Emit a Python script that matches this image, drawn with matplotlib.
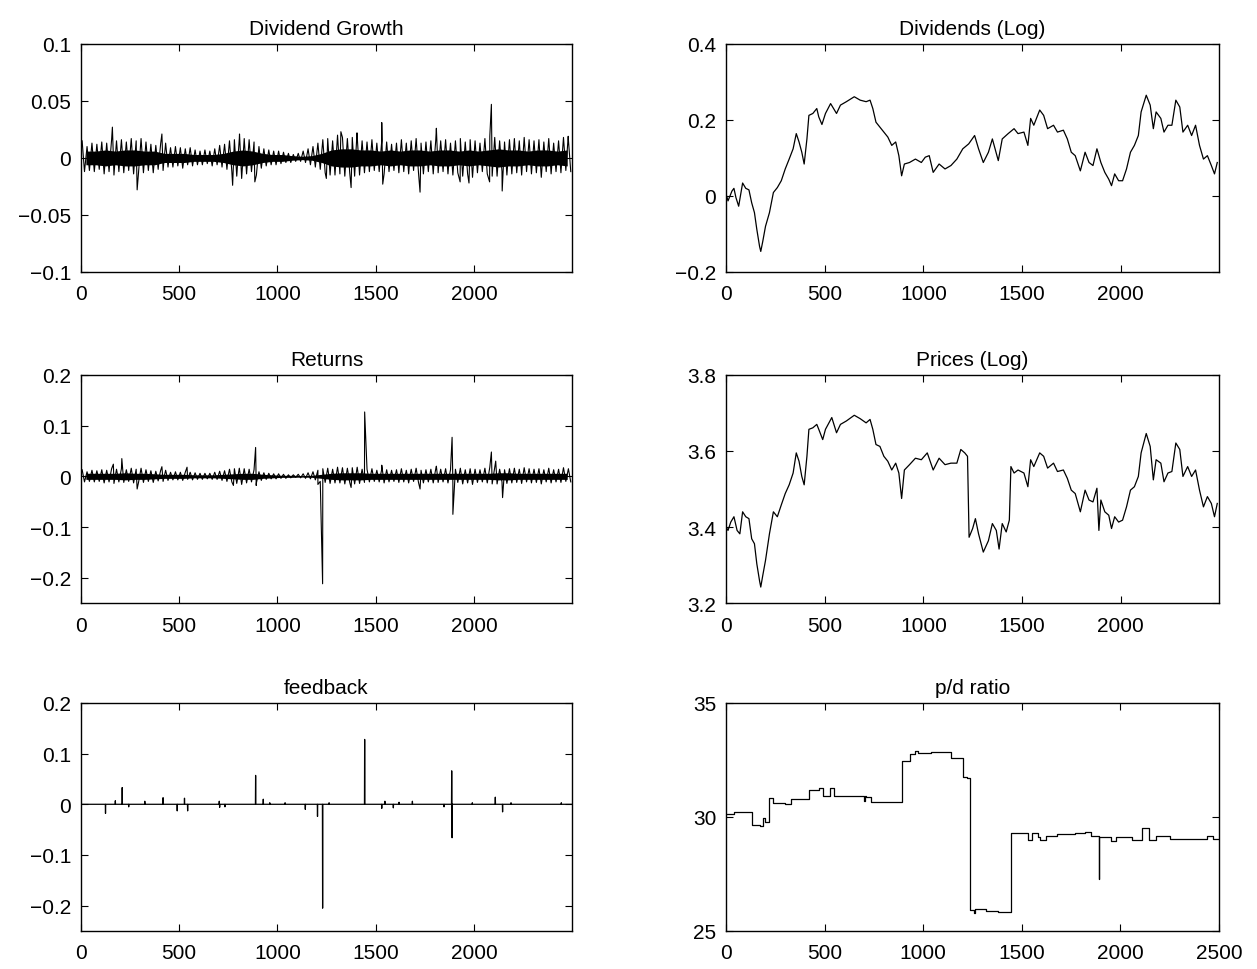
'''
Simulated market series: dividend growth, returns, feedback, log prices, p/d ratio
'''
import numpy as np
import matplotlib.pyplot as plt

plt.rcParams['font.family'] = ['Liberation Sans', 'DejaVu Sans']

N_OBS = 2499
BIN = 25
CORE_BIN = 50

# noise bands (upper / lower edge per 25-step bin)
growth_hi = [0.015, 0.010, 0.013, 0.012, 0.014, 0.013, 0.016, 0.015, 0.016, 0.014,
             0.017, 0.015, 0.017, 0.014, 0.012, 0.011, 0.013, 0.013, 0.009, 0.010,
             0.009, 0.008, 0.009, 0.007, 0.006, 0.007, 0.006, 0.008, 0.011, 0.012,
             0.015, 0.016, 0.017, 0.017, 0.016, 0.014, 0.010, 0.008, 0.007, 0.006,
             0.006, 0.005, 0.004, 0.003, 0.004, 0.006, 0.008, 0.010, 0.013, 0.016,
             0.017, 0.015, 0.020, 0.018, 0.017, 0.018, 0.019, 0.015, 0.014, 0.016,
             0.013, 0.015, 0.014, 0.012, 0.013, 0.016, 0.013, 0.015, 0.017, 0.013,
             0.014, 0.015, 0.016, 0.015, 0.016, 0.013, 0.015, 0.017, 0.014, 0.016,
             0.015, 0.013, 0.017, 0.019, 0.018, 0.015, 0.014, 0.016, 0.017, 0.015,
             0.018, 0.016, 0.015, 0.016, 0.014, 0.017, 0.013, 0.015, 0.018, 0.016]
growth_lo = [-0.012, -0.011, -0.012, -0.010, -0.014, -0.012, -0.015, -0.012, -0.013, -0.011,
             -0.014, -0.013, -0.013, -0.011, -0.013, -0.010, -0.011, -0.008, -0.008, -0.007,
             -0.009, -0.006, -0.007, -0.006, -0.006, -0.005, -0.007, -0.006, -0.008, -0.010,
             -0.012, -0.016, -0.018, -0.014, -0.012, -0.015, -0.009, -0.007, -0.006, -0.006,
             -0.005, -0.004, -0.004, -0.003, -0.003, -0.004, -0.006, -0.008, -0.010, -0.013,
             -0.015, -0.015, -0.014, -0.016, -0.013, -0.016, -0.015, -0.013, -0.012, -0.011,
             -0.012, -0.014, -0.012, -0.011, -0.013, -0.012, -0.014, -0.011, -0.013, -0.014,
             -0.012, -0.014, -0.013, -0.012, -0.014, -0.015, -0.013, -0.016, -0.014, -0.017,
             -0.013, -0.012, -0.014, -0.016, -0.016, -0.012, -0.015, -0.014, -0.013, -0.015,
             -0.012, -0.014, -0.013, -0.017, -0.012, -0.014, -0.012, -0.013, -0.011, -0.012]
# half-width of the solid dark core of the band, per 50-step bin
growth_core = [0.006, 0.006, 0.007, 0.006, 0.007, 0.007, 0.006, 0.006, 0.004, 0.004,
               0.004, 0.003, 0.003, 0.003, 0.004, 0.006, 0.007, 0.006, 0.004, 0.003,
               0.003, 0.002, 0.0015, 0.002, 0.004, 0.007, 0.008, 0.008, 0.007, 0.007,
               0.006, 0.007, 0.006, 0.007, 0.007, 0.006, 0.007, 0.007, 0.006, 0.007,
               0.006, 0.007, 0.008, 0.007, 0.007, 0.006, 0.007, 0.007, 0.006, 0.007]
growth_spike_t = [160, 286, 412, 772, 807, 885, 1249, 1323, 1375, 1405,
                  1531, 1536, 1726, 1809, 1930, 1975, 2080, 2089, 2144, 2480]
growth_spike_v = [0.027, -0.028, 0.021, -0.024, 0.021, -0.021, -0.018, 0.023, -0.026, 0.022,
                  0.031, -0.023, -0.030, 0.026, -0.021, -0.022, -0.021, 0.047, -0.029, 0.019]

ret_hi = [0.013, 0.009, 0.012, 0.011, 0.013, 0.012, 0.015, 0.014, 0.015, 0.013,
          0.016, 0.014, 0.016, 0.013, 0.011, 0.010, 0.012, 0.012, 0.008, 0.009,
          0.008, 0.008, 0.008, 0.007, 0.006, 0.006, 0.006, 0.008, 0.010, 0.011,
          0.014, 0.015, 0.016, 0.015, 0.014, 0.013, 0.009, 0.007, 0.006, 0.005,
          0.005, 0.004, 0.003, 0.003, 0.004, 0.005, 0.007, 0.009, 0.012, 0.015,
          0.016, 0.014, 0.018, 0.017, 0.016, 0.017, 0.018, 0.014, 0.014, 0.015,
          0.012, 0.014, 0.013, 0.012, 0.013, 0.015, 0.012, 0.014, 0.016, 0.012,
          0.013, 0.014, 0.015, 0.014, 0.015, 0.013, 0.014, 0.016, 0.013, 0.015,
          0.014, 0.013, 0.016, 0.018, 0.017, 0.014, 0.013, 0.015, 0.016, 0.014,
          0.017, 0.015, 0.014, 0.015, 0.013, 0.016, 0.013, 0.014, 0.017, 0.015]
ret_lo = [-0.011, -0.010, -0.011, -0.010, -0.013, -0.011, -0.014, -0.011, -0.012, -0.010,
          -0.013, -0.012, -0.012, -0.010, -0.012, -0.009, -0.010, -0.008, -0.007, -0.007,
          -0.008, -0.006, -0.007, -0.006, -0.006, -0.005, -0.006, -0.006, -0.008, -0.010,
          -0.011, -0.014, -0.016, -0.013, -0.011, -0.013, -0.008, -0.006, -0.005, -0.005,
          -0.004, -0.004, -0.003, -0.002, -0.003, -0.004, -0.005, -0.007, -0.010, -0.012,
          -0.014, -0.013, -0.013, -0.015, -0.012, -0.015, -0.014, -0.012, -0.011, -0.010,
          -0.011, -0.013, -0.011, -0.010, -0.012, -0.011, -0.013, -0.010, -0.012, -0.013,
          -0.011, -0.013, -0.012, -0.011, -0.013, -0.014, -0.012, -0.015, -0.013, -0.016,
          -0.012, -0.011, -0.013, -0.015, -0.015, -0.011, -0.014, -0.013, -0.012, -0.014,
          -0.011, -0.013, -0.012, -0.015, -0.011, -0.013, -0.011, -0.012, -0.010, -0.011]
ret_core = [0.006, 0.006, 0.006, 0.006, 0.007, 0.006, 0.006, 0.005, 0.004, 0.004,
            0.004, 0.003, 0.003, 0.003, 0.004, 0.005, 0.006, 0.006, 0.004, 0.003,
            0.002, 0.002, 0.0015, 0.002, 0.004, 0.006, 0.007, 0.007, 0.007, 0.006,
            0.006, 0.006, 0.006, 0.006, 0.006, 0.006, 0.006, 0.006, 0.006, 0.006,
            0.006, 0.006, 0.007, 0.007, 0.006, 0.006, 0.006, 0.006, 0.006, 0.006]
ret_spike_t = [165, 208, 286, 412, 540, 776, 889, 892, 1206, 1230,
               1375, 1444, 1531, 1726, 1809, 1889, 1893, 2089, 2111, 2146]
ret_spike_v = [0.024, 0.035, -0.025, 0.019, 0.018, -0.018, 0.057, -0.018, -0.016, -0.212,
               -0.022, 0.127, 0.022, -0.025, 0.020, 0.077, -0.075, 0.048, 0.030, -0.042]

# feedback is zero except for isolated jumps
fb_t = [125, 175, 210, 243, 325, 418, 490, 527, 543, 704, 706, 733, 889, 928, 961,
        1039, 1142, 1204, 1230, 1263, 1444, 1531, 1547, 1590, 1619, 1687, 1848, 1887,
        1889, 1992, 2109, 2146, 2189, 2445]
fb_v = [-0.018, 0.007, 0.033, -0.005, 0.006, 0.013, -0.013, 0.012, -0.013, 0.006, -0.006,
        -0.005, 0.057, 0.010, 0.003, 0.003, -0.010, -0.024, -0.205, 0.003, 0.128, -0.008,
        0.006, -0.007, 0.004, 0.006, -0.005, 0.066, -0.066, 0.003, 0.014, -0.015, 0.003,
        0.003]

# log dividends
div_t = [0, 10, 30, 40, 50, 64, 84, 100, 116, 130, 144, 156, 170, 176, 186, 200, 220, 240,
         260, 280, 300, 320, 340, 356, 370, 384, 396, 410, 420, 440, 460, 470, 486, 504,
         530, 560, 580, 610, 650, 680, 710, 730, 744, 760, 780, 800, 820, 840, 860, 876,
         890, 904, 930, 960, 990, 1010, 1030, 1050, 1080, 1110, 1140, 1170, 1200, 1230,
         1260, 1280, 1304, 1330, 1350, 1380, 1400, 1430, 1460, 1480, 1510, 1530, 1544,
         1560, 1590, 1610, 1630, 1660, 1680, 1710, 1730, 1750, 1770, 1796, 1820, 1840,
         1860, 1880, 1900, 1920, 1940, 1954, 1970, 1990, 2010, 2030, 2050, 2070, 2090,
         2104, 2130, 2150, 2166, 2180, 2204, 2220, 2240, 2260, 2280, 2300, 2316, 2340,
         2360, 2380, 2400, 2420, 2440, 2460, 2476, 2490]
div_v = [0.005, -0.013, 0.013, 0.020, -0.004, -0.027, 0.034, 0.020, 0.016, -0.018, -0.044,
         -0.088, -0.133, -0.146, -0.120, -0.080, -0.044, 0.009, 0.022, 0.040, 0.071, 0.097,
         0.124, 0.164, 0.142, 0.115, 0.084, 0.150, 0.212, 0.217, 0.230, 0.208, 0.188, 0.217,
         0.243, 0.217, 0.239, 0.248, 0.261, 0.252, 0.248, 0.252, 0.230, 0.194, 0.181, 0.168,
         0.155, 0.133, 0.142, 0.106, 0.053, 0.084, 0.088, 0.097, 0.088, 0.102, 0.106, 0.062,
         0.084, 0.071, 0.080, 0.097, 0.124, 0.137, 0.159, 0.124, 0.088, 0.115, 0.150, 0.093,
         0.150, 0.164, 0.177, 0.164, 0.168, 0.133, 0.204, 0.186, 0.226, 0.212, 0.177, 0.186,
         0.168, 0.173, 0.150, 0.115, 0.106, 0.066, 0.115, 0.088, 0.080, 0.124, 0.088, 0.062,
         0.044, 0.027, 0.058, 0.040, 0.040, 0.071, 0.115, 0.133, 0.159, 0.221, 0.265, 0.239,
         0.177, 0.221, 0.204, 0.168, 0.186, 0.186, 0.252, 0.234, 0.168, 0.186, 0.159, 0.186,
         0.133, 0.097, 0.106, 0.080, 0.058, 0.088]

# log prices
price_t = [0, 10, 24, 40, 56, 70, 84, 100, 116, 130, 144, 156, 170, 176, 186, 200, 220,
           240, 260, 280, 300, 320, 340, 356, 370, 384, 396, 410, 420, 440, 460, 470, 490,
           504, 536, 560, 580, 610, 650, 680, 710, 730, 744, 760, 780, 800, 820, 840, 860,
           876, 890, 904, 930, 960, 990, 1020, 1050, 1080, 1110, 1140, 1170, 1190, 1210,
           1224, 1232, 1250, 1264, 1280, 1304, 1330, 1350, 1370, 1384, 1400, 1420, 1436,
           1444, 1460, 1480, 1510, 1530, 1544, 1560, 1590, 1610, 1630, 1660, 1680, 1710,
           1730, 1750, 1770, 1796, 1820, 1840, 1860, 1880, 1890, 1900, 1920, 1940, 1954,
           1970, 1990, 2010, 2030, 2050, 2070, 2090, 2104, 2130, 2150, 2166, 2180, 2204,
           2220, 2240, 2260, 2280, 2300, 2316, 2340, 2360, 2380, 2400, 2420, 2440, 2460,
           2476, 2490]
price_v = [3.400, 3.391, 3.413, 3.427, 3.391, 3.382, 3.440, 3.427, 3.422, 3.369, 3.356,
           3.303, 3.258, 3.242, 3.272, 3.312, 3.382, 3.440, 3.427, 3.458, 3.488, 3.511,
           3.542, 3.595, 3.573, 3.533, 3.511, 3.586, 3.657, 3.661, 3.670, 3.657, 3.630,
           3.657, 3.688, 3.648, 3.670, 3.679, 3.694, 3.685, 3.674, 3.683, 3.657, 3.617,
           3.612, 3.586, 3.573, 3.550, 3.568, 3.542, 3.475, 3.550, 3.564, 3.581, 3.577,
           3.595, 3.550, 3.581, 3.564, 3.568, 3.568, 3.604, 3.595, 3.586, 3.373, 3.396,
           3.422, 3.382, 3.334, 3.364, 3.409, 3.391, 3.342, 3.409, 3.387, 3.418, 3.559,
           3.542, 3.550, 3.542, 3.506, 3.577, 3.559, 3.595, 3.586, 3.555, 3.568, 3.546,
           3.550, 3.528, 3.497, 3.488, 3.440, 3.497, 3.471, 3.466, 3.502, 3.391, 3.471,
           3.440, 3.431, 3.396, 3.427, 3.413, 3.418, 3.453, 3.497, 3.506, 3.533, 3.595,
           3.646, 3.612, 3.524, 3.577, 3.568, 3.519, 3.542, 3.546, 3.621, 3.604, 3.533,
           3.559, 3.533, 3.550, 3.497, 3.453, 3.480, 3.462, 3.427, 3.462]

# price/dividend ratio, piecewise constant
pd_t = [0, 40, 130, 170, 186, 196, 216, 240, 300, 330, 420, 470, 490, 526, 546, 700,
        704, 712, 734, 890, 932, 960, 972, 1040, 1140, 1204, 1220, 1236, 1256, 1262,
        1320, 1380, 1440, 1444, 1530, 1550, 1580, 1590, 1620, 1680, 1770, 1820, 1850,
        1889, 1891, 1950, 1980, 2060, 2110, 2144, 2180, 2250, 2280, 2440, 2470, 2500]
pd_v = [30.15, 30.2, 29.65, 29.6, 29.95, 29.8, 30.82, 30.6, 30.55, 30.78, 31.18, 31.27,
        30.92, 31.27, 30.9, 30.7, 30.9, 30.88, 30.66, 32.45, 32.78, 32.9, 32.8, 32.85,
        32.6, 31.75, 31.7, 25.9, 25.8, 25.95, 25.88, 25.83, 25.85, 29.3, 29.0, 29.3,
        29.1, 29.0, 29.15, 29.25, 29.3, 29.35, 29.15, 27.3, 29.1, 28.95, 29.1, 28.98,
        29.5, 29.0, 29.15, 29.05, 29.02, 29.15, 29.05, 29.05]


def noise_line(hi, lo, spike_t, spike_v):
    """
    Merge the band edges and the spikes into one time-ordered line
    """
    t = np.arange(len(hi)) * BIN
    xs = np.concatenate([t + 6, t + 18, spike_t])
    ys = np.concatenate([hi, lo, spike_v])
    order = np.argsort(xs, kind='stable')
    return xs[order], ys[order]


def plot_noise(ax, hi, lo, core, spike_t, spike_v):
    # solid dark core of the band, then the ragged outline with spikes on top
    tc = np.arange(len(core)) * CORE_BIN + CORE_BIN / 2
    core = np.array(core)
    ax.fill_between(tc, -core, core, color='black', lw=0)
    x, y = noise_line(hi, lo, spike_t, spike_v)
    ax.plot(x, y, color='black', lw=0.8)


def style_axes(ax, title, ylim, yticks, ylabels, xmax=N_OBS, xticks=(0, 500, 1000, 1500, 2000)):
    ax.set_title(title, fontsize=15, pad=7)
    ax.set_xlim(0, xmax)
    ax.set_ylim(*ylim)
    ax.set_xticks(list(xticks))
    ax.set_xticklabels([str(x) for x in xticks])
    ax.set_yticks(yticks)
    ax.set_yticklabels(ylabels)
    ax.tick_params(direction='in', top=True, right=True, length=5, width=0.8,
                   labelsize=15, pad=7)
    ax.tick_params(axis='x', pad=9)
    for s in ax.spines.values():
        s.set_linewidth(1.0)


fig = plt.figure(figsize=(12.57, 9.70), dpi=100)
left_x, left_w = 0.0644, 0.3906
right_x, right_w = 0.5776, 0.3922
rows = [0.7186, 0.3773, 0.0392]
h = 0.2351

line_kw = dict(color='black', lw=0.9)

# Dividend Growth
ax = fig.add_axes([left_x, rows[0], left_w, h])
plot_noise(ax, growth_hi, growth_lo, growth_core, growth_spike_t, growth_spike_v)
style_axes(ax, 'Dividend Growth', (-0.1, 0.1), [-0.1, -0.05, 0, 0.05, 0.1],
           ['\u22120.1', '\u22120.05', '0', '0.05', '0.1'])

# Dividends (Log)
ax = fig.add_axes([right_x, rows[0], right_w, h])
ax.plot(div_t, div_v, **line_kw)
style_axes(ax, 'Dividends (Log)', (-0.2, 0.4), [-0.2, 0, 0.2, 0.4],
           ['\u22120.2', '0', '0.2', '0.4'])

# Returns
ax = fig.add_axes([left_x, rows[1], left_w, h])
plot_noise(ax, ret_hi, ret_lo, ret_core, ret_spike_t, ret_spike_v)
style_axes(ax, 'Returns', (-0.25, 0.2), [-0.2, -0.1, 0, 0.1, 0.2],
           ['\u22120.2', '\u22120.1', '0', '0.1', '0.2'])

# Prices (Log)
ax = fig.add_axes([right_x, rows[1], right_w, h])
ax.plot(price_t, price_v, **line_kw)
style_axes(ax, 'Prices (Log)', (3.2, 3.8), [3.2, 3.4, 3.6, 3.8],
           ['3.2', '3.4', '3.6', '3.8'])

# feedback
ax = fig.add_axes([left_x, rows[2], left_w, h])
feedback = np.zeros(N_OBS)
feedback[fb_t] = fb_v
ax.plot(np.arange(N_OBS), feedback, **line_kw)
style_axes(ax, 'feedback', (-0.25, 0.2), [-0.2, -0.1, 0, 0.1, 0.2],
           ['\u22120.2', '\u22120.1', '0', '0.1', '0.2'])

# p/d ratio
ax = fig.add_axes([right_x, rows[2], right_w, h])
ax.step(pd_t, pd_v, where='post', **line_kw)
style_axes(ax, 'p/d ratio', (25, 35), [25, 30, 35], ['25', '30', '35'],
           xmax=2500, xticks=(0, 500, 1000, 1500, 2000, 2500))

fig.savefig('out.png', dpi=100)
